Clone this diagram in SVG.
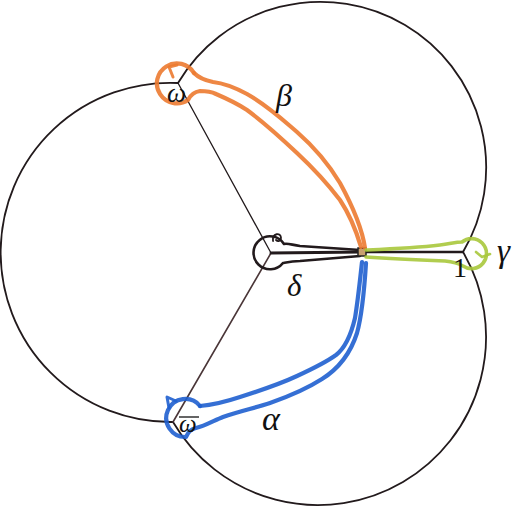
<svg xmlns="http://www.w3.org/2000/svg" width="519" height="510" viewBox="0 0 519 510">
<style>
.ink{fill:none;stroke:#221a1c;stroke-linecap:round;stroke-linejoin:round}
.circ{stroke-width:1.8}
.thin{stroke-width:1.3}
.thick{stroke-width:2.8}
.or{fill:none;stroke:#ec7a30;stroke-width:4.2;stroke-linecap:round;stroke-linejoin:round;opacity:.9}
.bl{fill:none;stroke:#1f5fcf;stroke-width:4.2;stroke-linecap:round;stroke-linejoin:round;opacity:.9}
.gr{fill:none;stroke:#a8c83c;stroke-width:3.6;stroke-linecap:round;stroke-linejoin:round;opacity:.9}
.lab{font-family:"Liberation Serif","Times New Roman",serif;font-style:italic;fill:#111}
.num{font-family:"Liberation Serif","Times New Roman",serif;fill:#111}
</style>
<rect width="519" height="510" fill="#ffffff"/>

<g id="circles">
  <path class="ink circ" d="M178 83 A169.6 169.6 0 1 0 173 422"/>
  <path class="ink circ" d="M178 83 A165 165 0 0 1 463 252"/>
  <path class="ink circ" d="M173 422 A167 167 0 0 0 463 252"/>
</g>

<g id="connectors">
  <line class="ink thin" x1="178" y1="83" x2="271" y2="253"/>
  <line class="ink" style="stroke:#4a3638;stroke-width:1.6" x1="173" y1="422" x2="271" y2="253"/>
  <line class="ink thick" x1="271" y1="253" x2="362" y2="252"/>
  <line class="ink" style="stroke-width:2.4" x1="362" y1="252" x2="463" y2="252"/>
</g>

<g id="loop-delta">
  <path class="ink" style="stroke-width:2.6" d="M360 250 L300 246 C292 245 288 243 284 244 A16.5 16.5 0 1 0 283 263 C288 262 292 261 300 261 L360 256"/>
  <path class="ink" style="stroke-width:1.8" d="M273 241 C272 233 281 232 281 238 C281 241 278 242 276 240"/>
  <rect x="358" y="248" width="8" height="8" fill="#c8a070" stroke="#222" stroke-width="1.5"/>
</g>

<g id="loop-beta">
  <path class="or" d="M365 248 C362 228 352 205 340 183 C328 163 313 146 297 132 C283 120 268 106 247 94 C234 87 222 83 213 82 C203 80 198 77 194 73"/>
  <path class="or" d="M194 73 A20 20 0 1 0 188 100 C190 96 193 92 200 91 C207 91 212 92 216 94 C230 100 238 104 247 110 C262 121 280 137 297 153 C312 167 327 183 340 200 C350 215 356 230 361 247"/>
  <path class="or" style="stroke-width:3" d="M177 65 L169 67 L173 77"/>
</g>

<g id="loop-alpha">
  <path class="bl" d="M362 262 C360 280 358 300 355 318 C351 335 345 348 336 355 C325 363 310 370 297 376 C280 384 262 390 240 397 C225 402 212 405 200 406"/>
  <path class="bl" d="M200 406 A19 19 0 1 0 186 437 C188 433 190 429 196 428 C205 426 215 420 223 417 C240 411 255 408 270 403 C290 396 308 388 322 379 C338 369 350 355 357 333 C362 315 364 295 366 263"/>
  <path class="bl" style="stroke-width:3" d="M176 401 L167 397 L169 408"/>
</g>

<g id="loop-gamma">
  <path class="gr" d="M366 250 C390 249 415 248 440 245 C450 244 455 242 462 242 A15 15 0 1 1 463 266 C458 263 455 262 445 261 C420 260 395 259 366 257"/>
  <path class="gr" style="stroke-width:2.6" d="M476 252 L482 257 L490 254"/>
</g>

<g id="labels">
  <text class="lab" x="167" y="102" font-size="27">ω</text>
  <text class="lab" x="179" y="432" font-size="25">ω</text>
  <line x1="179" y1="417" x2="199" y2="417" stroke="#111" stroke-width="1.3"/>
  <text class="lab" x="276" y="106" font-size="32">β</text>
  <text class="lab" x="287" y="296" font-size="31">δ</text>
  <text class="lab" x="262" y="430" font-size="34">α</text>
  <text class="lab" x="497" y="262" font-size="33">γ</text>
  <text class="num" x="453" y="277" font-size="28">1</text>
</g>
</svg>
